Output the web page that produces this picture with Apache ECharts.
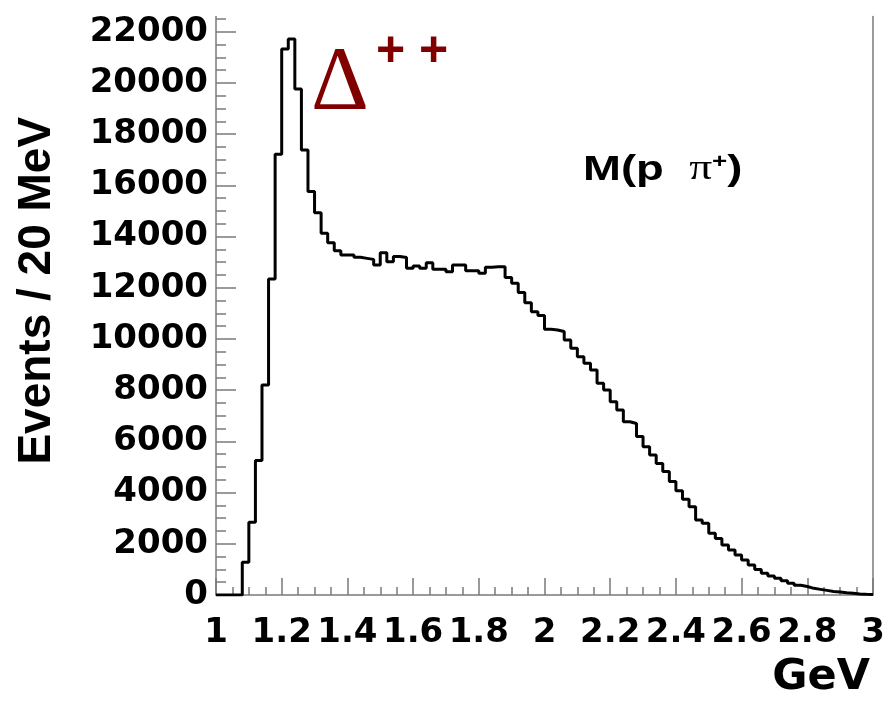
<!DOCTYPE html>
<html>
<head>
<meta charset="utf-8">
<script src="https://cdn.jsdelivr.net/npm/echarts@6/dist/echarts.min.js"></script>
<style>
  html, body { margin: 0; padding: 0; background: #ffffff; }
  #chart { width: 890px; height: 701px; }
</style>
</head>
<body>
<div id="chart"></div>
<script>
// Invariant mass M(p pi+) histogram, 20 MeV bins from 1.0 to 3.0 GeV
const binLow = 1.0;
const binHigh = 3.0;
const binWidth = 0.02;

// Events per bin (100 bins)
const counts = [
  0, 0, 0, 0, 1280, 2840, 5250, 8200, 12340, 17220,
  21330, 21720, 19770, 17380, 15760, 14930, 14130, 13760, 13450, 13280,
  13280, 13190, 13150, 13110, 12890, 13370, 13020, 13220, 13180, 12760,
  12850, 12760, 12980, 12720, 12720, 12630, 12890, 12890, 12670, 12670,
  12570, 12800, 12820, 12820, 12400, 12175, 11820, 11420, 11066, 10920,
  10380, 10350, 10290, 9960, 9640, 9310, 9050, 8790, 8270, 8010,
  7550, 7230, 6770, 6700, 6190, 5790, 5470, 5140, 4820, 4430,
  4070, 3740, 3451, 2930, 2800, 2410, 2210, 1950, 1760, 1560,
  1370, 1170, 1000, 850, 740, 650, 560, 460, 380, 330,
  260, 220, 180, 140, 120, 90, 65, 40, 26, 20
];

// Axis ticks
const xTicks = [1, 1.2, 1.4, 1.6, 1.8, 2, 2.2, 2.4, 2.6, 2.8, 3];
const yTicks = [0, 2000, 4000, 6000, 8000, 10000, 12000, 14000, 16000, 18000, 20000, 22000];
const yMinorTicks = [
  0, 500, 1000, 1500, 2000, 2500, 3000, 3500, 4000, 4500, 5000, 5500,
  6000, 6500, 7000, 7500, 8000, 8500, 9000, 9500, 10000, 10500, 11000, 11500,
  12000, 12500, 13000, 13500, 14000, 14500, 15000, 15500, 16000, 16500, 17000,
  17500, 18000, 18500, 19000, 19500, 20000, 20500, 21000, 21500, 22000, 22500
];
const yMax = 22600;

// Step points at the low edge of each bin, closed at the upper edge
const histPoints = counts.map((c, i) => [+(binLow + i * binWidth).toFixed(2), c]);
histPoints.push([binHigh, counts[counts.length - 1]]);

const axisGray = '#7a7a7a';
const tickFont = { fontFamily: '"DejaVu Sans"', fontWeight: 'bold', fontSize: 34, color: '#000000' };

const chart = echarts.init(document.getElementById('chart'), null, { renderer: 'canvas' });

chart.setOption({
  animation: false,
  backgroundColor: '#ffffff',
  grid: { left: 216, right: 17, top: 595 - yMax * 0.0256, bottom: 106, containLabel: false },
  xAxis: [{
    type: 'value',
    min: binLow,
    max: binHigh,
    interval: 0.2,
    position: 'bottom',
    axisLine: { show: true, lineStyle: { color: axisGray, width: 1.5 } },
    axisTick: { show: true, inside: true, length: 17, customValues: xTicks, lineStyle: { color: axisGray, width: 1.5 } },
    minorTick: { show: true, splitNumber: 4, length: 8, lineStyle: { color: axisGray, width: 1.5 } },
    splitLine: { show: false },
    axisLabel: Object.assign({ margin: 21, customValues: xTicks, formatter: v => String(+v.toFixed(1)) }, tickFont),
    name: 'GeV',
    nameLocation: 'end',
    nameGap: -3,
    nameTextStyle: {
      fontFamily: '"DejaVu Sans"', fontWeight: 'bold', fontSize: 43, color: '#000000',
      align: 'right', verticalAlign: 'top', padding: [61, 0, 0, 0]
    }
  }],
  yAxis: [{
    type: 'value',
    min: 0,
    max: yMax,
    interval: 2000,
    position: 'left',
    axisLine: { show: true, lineStyle: { color: axisGray, width: 1.5 } },
    axisTick: { show: true, inside: true, length: 20, customValues: yTicks, lineStyle: { color: axisGray, width: 1.5 } },
    splitLine: { show: false },
    axisLabel: Object.assign({ margin: 8, customValues: yTicks, formatter: v => String(v) }, tickFont),
    name: 'Events / 20 MeV',
    nameLocation: 'middle',
    nameGap: 156,
    nameTextStyle: {
      fontFamily: '"Liberation Sans"', fontWeight: 'bold', fontSize: 46, color: '#000000',
      padding: [0, 0, 0, 30]
    }
  }, {
    // minor ticks every 500 events
    type: 'value',
    min: 0,
    max: yMax,
    interval: 2000,
    position: 'left',
    offset: 0,
    axisLine: { show: false },
    axisTick: { show: true, inside: true, length: 10, customValues: yMinorTicks, lineStyle: { color: axisGray, width: 1.5 } },
    splitLine: { show: false },
    axisLabel: { show: false }
  }, {
    // right side of the frame
    type: 'value',
    min: 0,
    max: yMax,
    interval: 2000,
    position: 'right',
    axisLine: { show: true, lineStyle: { color: axisGray, width: 1.5 } },
    axisTick: { show: false },
    splitLine: { show: false },
    axisLabel: { show: false }
  }],
  series: [{
    type: 'line',
    name: 'M(p π+)',
    step: 'end',
    xAxisIndex: 0,
    yAxisIndex: 0,
    data: histPoints,
    showSymbol: false,
    symbol: 'none',
    silent: true,
    lineStyle: { color: '#000000', width: 3 }
  }],
  graphic: [{
    type: 'text',
    x: 311,
    y: 85,
    silent: true,
    style: {
      text: 'Δ',
      fontFamily: '"Liberation Serif"',
      fontSize: 90,
      fill: '#800000',
      align: 'left',
      verticalAlign: 'middle'
    }
  }, {
    type: 'text',
    x: 376,
    y: 52,
    silent: true,
    style: {
      text: '+ +',
      fontFamily: '"Liberation Sans"',
      fontWeight: 'bold',
      fontSize: 50,
      fill: '#800000',
      align: 'left',
      verticalAlign: 'middle'
    }
  }, {
    type: 'text',
    x: 583,
    y: 170,
    scaleX: 1.3,
    silent: true,
    style: {
      text: '{a|M(p  }{g|π}{s|+}{a|)}',
      align: 'left',
      verticalAlign: 'middle',
      rich: {
        a: { fontFamily: '"Liberation Sans"', fontWeight: 'bold', fontSize: 35, fill: '#000000' },
        g: { fontFamily: '"Liberation Serif"', fontSize: 35, fill: '#000000' },
        s: { fontFamily: '"Liberation Sans"', fontWeight: 'bold', fontSize: 20, fill: '#000000', verticalAlign: 'top', padding: [0, 0, 14, 0] }
      }
    }
  }]
});
</script>
</body>
</html>
